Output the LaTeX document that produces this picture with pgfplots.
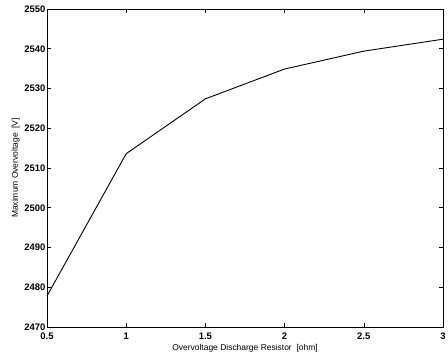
\documentclass[border=0pt]{standalone}
\usepackage{pgfplots}
\pgfplotsset{compat=1.18}
\usepackage{fontspec}
\setmainfont{Liberation Sans}
\begin{document}
\begin{tikzpicture}
\path[use as bounding box] (-47bp,-34bp) rectangle (401bp,327bp);
\begin{axis}[
  at={(0,0)}, anchor=south west,
  scale only axis, width=396bp, height=318bp,
  xmin=0.5, xmax=3, ymin=2470, ymax=2550,
  xtick={0.5,1,1.5,2,2.5,3},
  ytick={2470,2480,...,2550},
  tick align=inside, tick pos=both,
  major tick length=4bp,
  axis line style={line width=0.9pt},
  tick style={line width=0.6pt, black},
  /pgf/number format/assume math mode=true,
  /pgf/number format/1000 sep={},
  ticklabel style={font=\fontsize{9.5}{10}\selectfont\bfseries},
  xticklabel style={yshift=-2bp},
  yticklabel style={xshift=2bp},
  xlabel={Overvoltage Discharge Resistor\ \ [ohm]},
  ylabel={Maximum Overvoltage\ \ [V]},
  label style={font=\fontsize{8.5}{9}\selectfont},
  xlabel style={yshift=2bp},
  ylabel style={yshift=-2bp},
]
\addplot[black, line width=0.9pt] coordinates {
(0.5,2477.8) (1,2513.6) (1.5,2527.4) (2,2534.9) (2.5,2539.4) (3,2542.4)
};
\end{axis}
\end{tikzpicture}
\end{document}
